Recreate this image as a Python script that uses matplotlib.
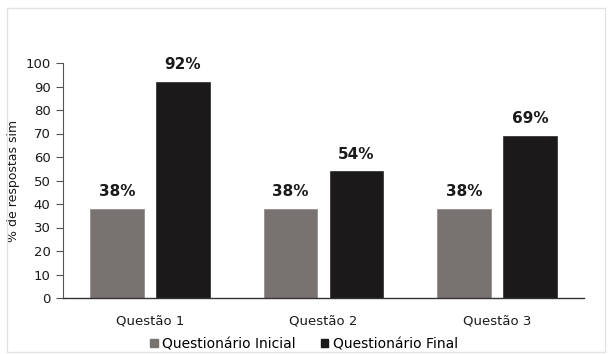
import matplotlib
matplotlib.use("Agg")
import matplotlib.pyplot as plt
from matplotlib.patches import Rectangle, Patch
import numpy as np

plt.rcParams['font.family'] = ['DejaVu Sans']

categories = ["Questão 1", "Questão 2", "Questão 3"]
inicial = [38, 38, 38]
final = [92, 54, 69]
series_names = ["Questionário Inicial", "Questionário Final"]
yticks = [0, 10, 20, 30, 40, 50, 60, 70, 80, 90, 100]

color_ini = "#787271"
color_fin = "#1b1919"

fig = plt.figure(figsize=(6.08, 3.54), dpi=100)
fig.patches.append(Rectangle((7 / 608, 1 - 352 / 354), 598 / 608, 344 / 354,
                             transform=fig.transFigure, fill=False,
                             edgecolor="#e3e3e3", linewidth=1.0))

ax = fig.add_axes([63 / 608, 1 - 298 / 354, (584 - 63) / 608, (298 - 63) / 354])

x = np.arange(len(categories))
w = 0.31
off = 0.19
b1 = ax.bar(x - off, inicial, w, color=color_ini, edgecolor="#8a8584", linewidth=0.5)
b2 = ax.bar(x + off, final, w, color=color_fin, edgecolor="#2a2828", linewidth=0.5)

for bars, vals in ((b1, inicial), (b2, final)):
    for r, v in zip(bars, vals):
        ax.text(r.get_x() + r.get_width() / 2, v + 4, f"{v}%", ha="center",
                va="bottom", fontsize=11, fontweight="bold", color="#1a1a1a")

ax.set_xlim(-0.5, 2.5)
ax.set_ylim(0, 100)
ax.set_yticks(yticks)
ax.set_xticks(x)
ax.set_xticklabels(categories, fontsize=9.5, color="#1a1a1a")
ax.tick_params(axis="x", length=0, pad=12)
ax.tick_params(axis="y", length=5, width=0.8, color="#555555", labelsize=9.5,
               labelcolor="#1a1a1a", pad=4)
ax.set_ylabel("% de respostas sim", fontsize=9, color="#1a1a1a")
ax.yaxis.set_label_coords(-0.083, 0.5)

for s in ("top", "right"):
    ax.spines[s].set_visible(False)
ax.spines["left"].set_color("#555555")
ax.spines["left"].set_linewidth(0.8)
ax.spines["bottom"].set_color("#333333")
ax.spines["bottom"].set_linewidth(1.0)

handles = [Patch(color=color_ini), Patch(color=color_fin)]
fig.legend(handles, series_names, loc="center", bbox_to_anchor=(0.5, 1 - 344 / 354),
           ncol=2, frameon=False, fontsize=10, handlelength=0.55, handleheight=0.55,
           handletextpad=0.3, columnspacing=1.8, borderpad=0, borderaxespad=0)

fig.savefig("out.png", dpi=100)
